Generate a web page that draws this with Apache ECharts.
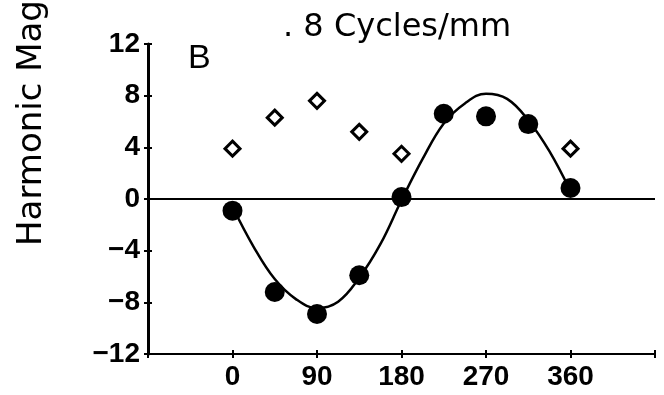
<!DOCTYPE html>
<html>
<head>
<meta charset="utf-8">
<script src="https://cdn.jsdelivr.net/npm/echarts@6/dist/echarts.min.js"></script>
<style>html,body{margin:0;padding:0;background:#fff}#c{width:664px;height:395px}</style>
</head>
<body>
<div id="c"></div>
<script>
// Data
const xTicks = [-90, 0, 90, 180, 270, 360, 450];
const yTicks = [-12, -8, -4, 0, 4, 8, 12];
const filledX = [0, 45, 90, 135, 180, 225, 270, 315, 360];
const filledY = [-0.9, -7.2, -8.9, -5.9, 0.15, 6.6, 6.4, 5.8, 0.85];
const openX = [0, 45, 90, 135, 180, 360];
const openY = [3.9, 6.3, 7.6, 5.2, 3.5, 3.9];
const curveX = [0, 22.5, 45, 67.5, 90, 112.5, 135, 157.5, 180, 202.5, 225, 247.5, 270, 292.5, 315, 337.5, 360];
const curveY = [-0.6, -3.7, -6.2, -7.75, -8.45, -7.95, -6.1, -3.5, -0.1, 3.1, 5.85, 7.4, 8.15, 7.75, 6.1, 3.7, 0.6];

const zip = (a, b) => a.map((v, i) => [v, b[i]]);
const numFont = 'Liberation Sans';
const minus = v => v < 0 ? '\u2212' + (-v) : String(v);

const chart = echarts.init(document.getElementById('c'));
const baseX = {
  type: 'value', min: xTicks[0], max: xTicks[xTicks.length - 1], interval: 90,
  splitLine: { show: false }
};
const baseY = {
  type: 'value', min: yTicks[0], max: yTicks[yTicks.length - 1], interval: 4,
  splitLine: { show: false }
};
chart.setOption({
  animation: false,
  backgroundColor: '#fff',
  grid: { left: 148, right: 9, top: 44, bottom: 41 },
  xAxis: [
    Object.assign({}, baseX, {
      axisLine: { onZero: false, lineStyle: { color: '#000', width: 2 } },
      axisTick: { show: true, length: 4, lineStyle: { color: '#000', width: 2 } },
      axisLabel: {
        color: '#000', fontFamily: numFont, fontWeight: 'bold', fontSize: 28, margin: 9,
        formatter: v => (v < 0 || v > 360) ? '' : String(v)
      }
    }),
    Object.assign({}, baseX, {
      position: 'bottom',
      axisLine: { show: false, onZero: false },
      axisTick: { show: true, inside: true, length: 4, lineStyle: { color: '#000', width: 2 } },
      axisLabel: { show: false }
    })
  ],
  yAxis: [
    Object.assign({}, baseY, {
      axisLine: { onZero: false, lineStyle: { color: '#000', width: 3 } },
      axisTick: { show: true, length: 4, lineStyle: { color: '#000', width: 2 } },
      axisLabel: { color: '#000', fontFamily: numFont, fontWeight: 'bold', fontSize: 28, margin: 8, formatter: minus }
    }),
    Object.assign({}, baseY, {
      position: 'left',
      axisLine: { show: false, onZero: false },
      axisTick: { show: true, inside: true, length: 4, lineStyle: { color: '#000', width: 2 } },
      axisLabel: { show: false }
    })
  ],
  graphic: [
    { type: 'text', left: 283, top: 12, style: { text: '. 8 Cycles/mm', fill: '#000', font: '32px "DejaVu Sans"' } },
    { type: 'text', left: 188, top: 42, style: { text: 'B', fill: '#000', font: '34px "Liberation Sans"' } },
    { type: 'text', x: 32, y: 246, rotation: Math.PI / 2,
      style: { text: 'Harmonic Mag', fill: '#000', font: '34px "DejaVu Sans"', align: 'left', verticalAlign: 'middle' } }
  ],
  series: [
    {
      type: 'line', data: zip(curveX, curveY), smooth: 0.4, showSymbol: false,
      lineStyle: { color: '#000', width: 2.5 }, z: 2,
      markLine: {
        silent: true, symbol: 'none', label: { show: false },
        lineStyle: { color: '#000', width: 2, type: 'solid' },
        data: [{ yAxis: 0 }]
      }
    },
    {
      type: 'scatter', data: zip(openX, openY), symbol: 'diamond', symbolSize: 15,
      itemStyle: { color: '#fff', borderColor: '#000', borderWidth: 3, opacity: 1 }, z: 3
    },
    {
      type: 'scatter', data: zip(filledX, filledY), symbol: 'circle', symbolSize: 20,
      itemStyle: { color: '#000', opacity: 1 }, z: 4
    }
  ]
});
</script>
</body>
</html>
